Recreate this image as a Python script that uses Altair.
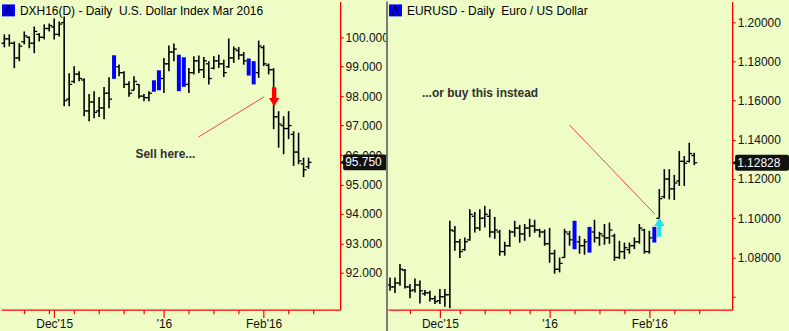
import altair as alt
import pandas as pd

# ---------------- data ----------------
dxy_high = [100.10, 100.10, 99.86, 99.80, 100.20, 100.03, 100.37, 100.14, 100.44, 100.47,
            100.64, 100.54, 100.71, 98.78, 99.02, 98.85, 98.61, 98.07, 98.17, 97.97,
            98.31, 98.64, 99.39, 99.08, 98.85, 98.51, 98.68, 98.41, 98.07, 98.17,
            98.54, 98.88, 99.30, 99.72, 99.79, 99.41, 99.32, 98.96, 99.36, 99.38,
            99.33, 99.19, 99.36, 99.41, 99.24, 99.96, 99.69, 99.67, 99.50, 99.28,
            99.19, 99.89, 99.73, 99.11, 98.95, 97.49, 97.32, 97.49, 96.81, 96.76,
            95.91, 95.91]
dxy_low = [99.66, 99.69, 98.95, 99.19, 99.76, 99.63, 99.46, 99.86, 99.93, 100.20,
           99.93, 100.03, 97.66, 97.66, 98.44, 98.51, 97.32, 97.15, 97.25, 97.29,
           97.22, 97.59, 98.59, 98.68, 98.28, 97.98, 98.20, 97.92, 97.83, 97.83,
           98.15, 98.20, 98.11, 98.85, 99.19, 98.17, 98.32, 98.11, 98.74, 98.79,
           98.62, 98.40, 98.91, 98.96, 98.65, 98.96, 99.13, 99.24, 99.07, 98.70,
           98.40, 98.62, 99.02, 98.74, 96.88, 96.25, 96.03, 96.54, 95.63, 95.69,
           95.25, 95.53]
dxy_open = [99.80, 99.95, 99.80, 99.30, 99.85, 100.00, 99.80, 100.10, 100.00, 100.30,
            100.35, 100.10, 100.50, 97.90, 98.50, 98.75, 98.55, 97.50, 97.80, 97.50,
            97.60, 98.10, 98.60, 99.00, 98.80, 98.40, 98.20, 98.40, 98.00, 97.95,
            98.20, 98.40, 98.60, 99.10, 99.50, 99.30, 98.50, 98.40, 98.80, 99.20,
            98.90, 99.10, 98.95, 99.20, 99.10, 99.00, 99.30, 99.55, 99.40, 99.20,
            98.90, 98.80, 99.65, 99.05, 98.90, 97.30, 97.00, 96.90, 96.70, 96.10,
            95.70, 95.60]
dxy_close = [99.95, 99.80, 99.30, 99.70, 100.05, 99.80, 100.20, 100.00, 100.30, 100.40,
             100.10, 100.45, 97.85, 98.40, 98.75, 98.60, 97.50, 97.80, 97.45, 97.60,
             98.10, 97.90, 99.30, 98.80, 98.40, 98.10, 98.50, 98.00, 97.95, 98.10,
             98.45, 98.80, 99.10, 99.50, 99.60, 98.30, 99.20, 98.80, 99.20, 98.90,
             99.20, 98.60, 99.20, 99.10, 98.80, 99.30, 99.60, 99.40, 99.20, 98.80,
             99.10, 99.70, 99.10, 98.90, 97.30, 97.05, 96.90, 97.00, 96.10, 95.80,
             95.50, 95.75]
dxy_blue = [22, 30, 31, 35, 36, 49, 50]

eur_high = [1.0698, 1.0698, 1.0767, 1.0741, 1.0665, 1.0693, 1.0682, 1.0634, 1.0631, 1.0605,
            1.0639, 1.0639, 1.0987, 1.0961, 1.0894, 1.0902, 1.1046, 1.1032, 1.1046, 1.1063,
            1.1046, 1.1007, 1.0941, 1.0880, 1.0941, 1.0987, 1.0966, 1.0971, 1.0997, 1.0992,
            1.0946, 1.0943, 1.0951, 1.0839, 1.0800, 1.0946, 1.0936, 1.0987, 1.0910, 1.0895,
            1.0956, 1.0992, 1.0931, 1.0971, 1.0978, 1.0921, 1.0885, 1.0876, 1.0876, 1.0902,
            1.0971, 1.0946, 1.0936, 1.0956, 1.1149, 1.1250, 1.1250, 1.1221, 1.1343, 1.1317,
            1.1385, 1.1334]
eur_low = [1.0631, 1.0619, 1.0656, 1.0642, 1.0592, 1.0622, 1.0566, 1.0605, 1.0575, 1.0563,
           1.0563, 1.0549, 1.0541, 1.0834, 1.0797, 1.0834, 1.0885, 1.0927, 1.0936, 1.0953,
           1.0902, 1.0895, 1.0809, 1.0809, 1.0854, 1.0905, 1.0875, 1.0885, 1.0905, 1.0926,
           1.0902, 1.0860, 1.0773, 1.0717, 1.0724, 1.0798, 1.0860, 1.0842, 1.0819, 1.0814,
           1.0825, 1.0876, 1.0860, 1.0865, 1.0870, 1.0783, 1.0792, 1.0792, 1.0819, 1.0843,
           1.0870, 1.0819, 1.0819, 1.0876, 1.0997, 1.1101, 1.1096, 1.1093, 1.1165, 1.1165,
           1.1284, 1.1271]
eur_open = [1.0660, 1.0650, 1.0670, 1.0735, 1.0650, 1.0635, 1.0660, 1.0615, 1.0620, 1.0590,
            1.0580, 1.0600, 1.0610, 1.0935, 1.0880, 1.0840, 1.0890, 1.1010, 1.0950, 1.1000,
            1.1010, 1.0930, 1.0930, 1.0830, 1.0860, 1.0930, 1.0950, 1.0920, 1.0950, 1.0960,
            1.0940, 1.0930, 1.0870, 1.0820, 1.0740, 1.0800, 1.0920, 1.0880, 1.0880, 1.0860,
            1.0860, 1.0930, 1.0900, 1.0910, 1.0900, 1.0910, 1.0800, 1.0830, 1.0840, 1.0860,
            1.0880, 1.0940, 1.0830, 1.0900, 1.1000, 1.1110, 1.1200, 1.1150, 1.1190, 1.1290,
            1.1290, 1.1320]
eur_close = [1.0650, 1.0670, 1.0740, 1.0650, 1.0630, 1.0660, 1.0630, 1.0620, 1.0590, 1.0575,
             1.0600, 1.0610, 1.0940, 1.0880, 1.0830, 1.0880, 1.1020, 1.0950, 1.1000, 1.1020,
             1.0930, 1.0940, 1.0830, 1.0860, 1.0930, 1.0950, 1.0920, 1.0950, 1.0960, 1.0940,
             1.0930, 1.0870, 1.0820, 1.0740, 1.0770, 1.0930, 1.0890, 1.0880, 1.0860, 1.0880,
             1.0900, 1.0900, 1.0920, 1.0900, 1.0940, 1.0800, 1.0830, 1.0850, 1.0860, 1.0880,
             1.0950, 1.0830, 1.0900, 1.0900, 1.1100, 1.1200, 1.1150, 1.1180, 1.1290, 1.1280,
             1.1330, 1.12828]
eur_blue = [37, 40, 53]

# axis ticks (bar index) and month labels
left_ticks = [4, 9, 10, 14, 19, 24, 28, 32, 37, 42, 47, 52, 57, 62]
right_ticks = [4, 10, 14, 19, 24, 28, 32, 37, 42, 47, 52, 57, 62]
month_idx = [10, 32, 52]
month_lbl = ["Dec'15", "'16", "Feb'16"]

dxy_levels = [92, 93, 94, 95, 96, 97, 98, 99, 100]
eur_levels = [1.06, 1.08, 1.10, 1.12, 1.14, 1.16, 1.18, 1.20]

# annotations
sell_line_x = [38.9, 52.1]
sell_line_y = [96.61, 97.98]
buy_line_x = [36.0, 53.1]
buy_line_y = [1.1475, 1.1021]
sell_arrow = [54.1, 97.98]
buy_arrow = [54.0, 1.0954]
sell_text = [26.3, 96.03, "Sell here..."]
buy_text = [6.4, 1.1639, "...or buy this instead"]
dxy_last = 95.750
eur_last = 1.12828

# ---------------- styling ----------------
BG = "#EEFCC6"
RED = "#FF0000"
FONT = "Liberation Sans"
TXT = "#111111"
H = 309

DOWN_ARROW = "M-0.22,-0.95L0.22,-0.95L0.22,0.12L0.52,0.12L0,0.95L-0.52,0.12L-0.22,0.12Z"
UP_ARROW = "M-0.22,0.95L0.22,0.95L0.22,-0.12L0.52,-0.12L0,-0.95L-0.52,-0.12L-0.22,-0.12Z"


def ohlc_frame(o, h, l, c, blue):
    return pd.DataFrame({
        "i": list(range(len(h))), "open": o, "high": h, "low": l, "close": c,
        "blue": [1 if k in blue else 0 for k in range(len(h))],
    })


def month_expr():
    parts = [f'datum.value == {v} ? "{t}"' for v, t in zip(month_idx, month_lbl)]
    return " : ".join(parts) + " : ''"


def panel(df, xdom, width, ydom, levels, yfmt, ticks, title, line_x, line_y,
          arrow, arrow_path, arrow_color, note, last, last_txt, box_w, hide_low=None):
    xs = alt.Scale(domain=xdom, nice=False, zero=False)
    ys = alt.Scale(domain=ydom, nice=False, zero=False)
    major_test = "indexof([" + ",".join(str(v) for v in month_idx) + "], datum.value) >= 0"
    xaxis = alt.Axis(values=ticks, labelExpr=month_expr(), title=None, grid=False,
                     domainColor=RED, domainWidth=1.4, tickColor=RED, tickWidth=1.2,
                     tickSize={"condition": {"test": major_test, "value": 8}, "value": 4},
                     labelPadding=1, labelOverlap=False, labelFlush=False,
                     labelFont=FONT, labelFontSize=12, labelColor=TXT)
    if hide_low is not None:
        lab = f"datum.value < {hide_low} ? '' : format(datum.value, '{yfmt}')"
    else:
        lab = f"format(datum.value, '{yfmt}')"
    yaxis = alt.Axis(orient="right", values=levels, labelExpr=lab, title=None, grid=False,
                     domainColor=RED, domainWidth=1.4, tickColor=RED, tickWidth=1.2,
                     tickSize=3, labelPadding=2, labelOverlap=False, labelFlush=False,
                     labelFont=FONT, labelFontSize=12, labelColor=TXT)

    def X(f):
        return alt.X(f, scale=xs, axis=xaxis)

    def Y(f):
        return alt.Y(f, scale=ys, axis=yaxis)

    base = alt.Chart(df)
    hl = base.transform_filter("datum.blue == 0").mark_rule(
        color="black", strokeWidth=1.6).encode(x=X("i:Q"), y=Y("low:Q"), y2="high:Q")
    op = base.transform_filter("datum.blue == 0").mark_rule(
        color="black", strokeWidth=1.3, xOffset=-3, x2Offset=0).encode(
        x=X("i:Q"), x2="i:Q", y=Y("open:Q"))
    cl = base.transform_filter("datum.blue == 0").mark_rule(
        color="black", strokeWidth=1.3, xOffset=0, x2Offset=3).encode(
        x=X("i:Q"), x2="i:Q", y=Y("close:Q"))
    bl = base.transform_filter("datum.blue == 1").mark_rule(
        color="#0000FF", strokeWidth=4, strokeCap="butt").encode(
        x=X("i:Q"), y=Y("low:Q"), y2="high:Q")

    ln = alt.Chart(pd.DataFrame({"i": line_x, "low": line_y})).mark_line(
        color="#F04848", strokeWidth=1).encode(x=X("i:Q"), y=Y("low:Q"))
    ar = alt.Chart(pd.DataFrame({"i": [arrow[0]], "low": [arrow[1]]})).mark_point(
        shape=arrow_path, size=400, filled=True, opacity=1, color=arrow_color,
        strokeWidth=0).encode(x=X("i:Q"), y=Y("low:Q"))
    nt = alt.Chart(pd.DataFrame({"i": [note[0]], "low": [note[1]], "t": [note[2]]})).mark_text(
        align="left", baseline="middle", font=FONT, fontSize=12, fontWeight="bold",
        color="#303030").encode(x=X("i:Q"), y=Y("low:Q"), text="t:N")

    one = pd.DataFrame({"low": [last], "t": [last_txt]})
    box = alt.Chart(one).mark_rect(color="#111111", cornerRadius=2, yOffset=-8,
                                   y2Offset=8).encode(
        x=alt.value(width + 3), x2=alt.value(width + 3 + box_w),
        y=Y("low:Q"), y2="low:Q")
    ptr = alt.Chart(one).mark_point(shape="triangle-left", size=28, filled=True,
                                    opacity=1, color="#111111").encode(
        x=alt.value(width + 2), y=Y("low:Q"))
    btx = alt.Chart(one).mark_text(align="left", baseline="middle", font=FONT,
                                   fontSize=12, color="white").encode(
        x=alt.value(width + 5), y=Y("low:Q"), text="t:N")

    tdf = pd.DataFrame({"t": [title]})
    abox = alt.Chart(tdf).mark_rect(color="#0000FF").encode(
        x=alt.value(1), x2=alt.value(14), y=alt.value(3), y2=alt.value(15))
    atx = alt.Chart(tdf).mark_text(align="center", baseline="middle", font=FONT,
                                   fontSize=12, color="black").encode(
        x=alt.value(7.5), y=alt.value(9.5), text=alt.value("A"))
    ttx = alt.Chart(tdf).mark_text(align="left", baseline="middle", font=FONT,
                                   fontSize=12, color="black").encode(
        x=alt.value(19), y=alt.value(9.5), text="t:N")

    return alt.layer(hl, op, cl, bl, ln, ar, nt, box, ptr, btx, abox, atx, ttx).properties(
        width=width, height=H)


dxy = ohlc_frame(dxy_open, dxy_high, dxy_low, dxy_close, dxy_blue)
eur = ohlc_frame(eur_open, eur_high, eur_low, eur_close, eur_blue)

left = panel(dxy, [-0.667, 67.333], 340, [90.7458, 101.2203], dxy_levels, ".3f",
             left_ticks, "DXH16(D) - Daily\u00a0 U.S. Dollar Index Mar 2016",
             sell_line_x, sell_line_y, sell_arrow, DOWN_ARROW, "#FF0000",
             sell_text, dxy_last, "95.750", 44)
right = panel(eur, [-0.4, 68.6], 345, [1.05341, 1.21053], eur_levels, ".5f",
              right_ticks, "EURUSD - Daily\u00a0 Euro / US Dollar",
              buy_line_x, buy_line_y, buy_arrow, UP_ARROW, "#22E0EE",
              buy_text, eur_last, "1.12828", 54, hide_low=1.07)

sep = alt.Chart(pd.DataFrame({"a": [0]})).mark_rule(color="#7A7A7A", strokeWidth=2).encode(
    x=alt.value(-1), y=alt.value(0), y2=alt.value(H + 22))
right = alt.layer(right, sep)

chart = alt.hconcat(left, right, spacing=48, bounds="flush").properties(
    padding=0, background=BG
).configure_view(stroke=None, fill=BG)

chart.save("out.html", embed_options={"renderer": "svg", "actions": False})
